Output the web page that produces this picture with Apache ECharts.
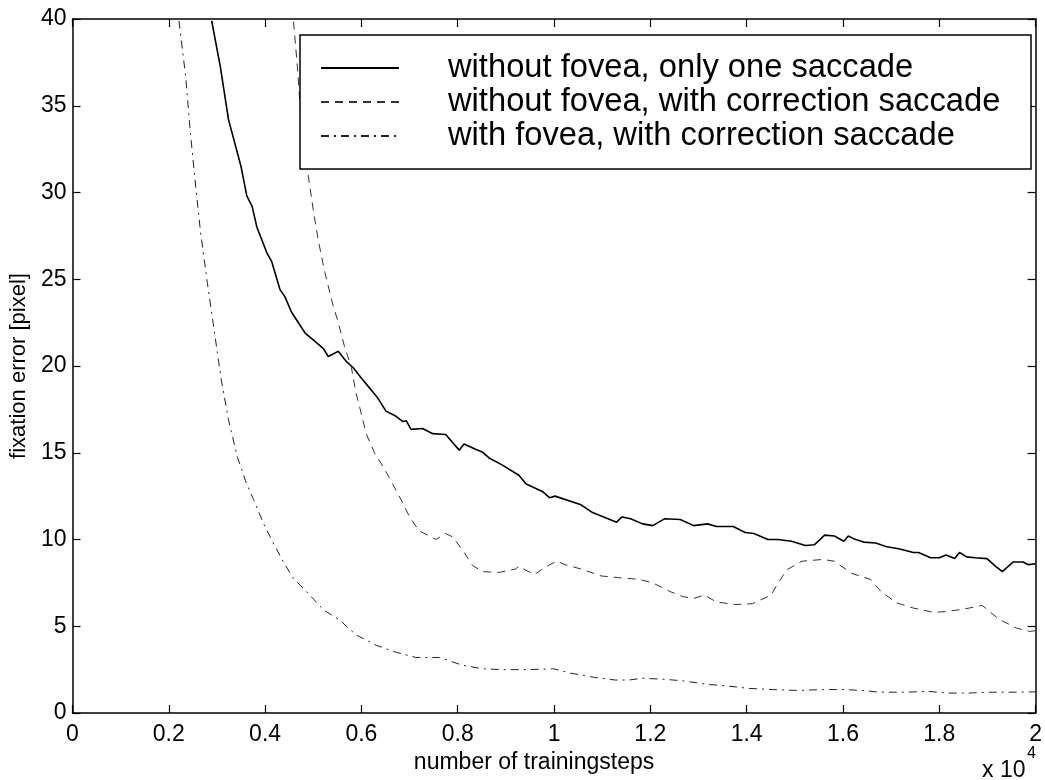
<!DOCTYPE html>
<html>
<head>
<meta charset="utf-8">
<script src="https://cdn.jsdelivr.net/npm/echarts@6/dist/echarts.min.js"></script>
<style>
html,body{margin:0;padding:0;background:#fff;}
#chart{width:1045px;height:780px;}
</style>
</head>
<body>
<div id="chart"></div>
<script>
// x values in units of 10^4 training steps
const seriesNames = [
  'without fovea, only one saccade',
  'without fovea, with correction saccade',
  'with fovea, with correction saccade'
];
const xTickLabels = ['0','0.2','0.4','0.6','0.8','1','1.2','1.4','1.6','1.8','2'];
const yTickLabels = ['0','5','10','15','20','25','30','35','40'];

const solidX = [0.289,0.307,0.324,0.350,0.362,0.373,0.383,0.404,0.414,0.431,0.441,0.455,0.483,0.500,0.521,0.531,0.552,0.569,0.583,0.603,0.634,0.651,0.672,0.686,0.693,0.703,0.727,0.748,0.775,0.803,0.813,0.837,0.851,0.865,0.892,0.927,0.942,0.977,0.991,1.002,1.056,1.080,1.130,1.141,1.159,1.184,1.205,1.230,1.262,1.290,1.319,1.337,1.372,1.397,1.415,1.444,1.465,1.493,1.522,1.541,1.562,1.582,1.602,1.611,1.622,1.643,1.668,1.689,1.718,1.746,1.757,1.782,1.800,1.814,1.832,1.842,1.857,1.874,1.899,1.917,1.931,1.953,1.974,1.985,2.0];
const solidY = [39.9,37.25,34.2,31.5,29.8,29.2,28.0,26.5,26.0,24.4,24.0,23.1,21.9,21.5,21.0,20.55,20.85,20.25,19.9,19.2,18.15,17.4,17.1,16.8,16.85,16.35,16.4,16.1,16.05,15.15,15.5,15.2,15.05,14.7,14.3,13.7,13.2,12.75,12.4,12.5,12.0,11.55,11.0,11.3,11.2,10.9,10.8,11.2,11.15,10.8,10.9,10.75,10.75,10.4,10.35,10.0,10.0,9.9,9.65,9.7,10.25,10.2,9.9,10.2,10.05,9.85,9.8,9.6,9.45,9.25,9.25,8.95,8.95,9.1,8.9,9.25,9.0,8.95,8.9,8.45,8.15,8.7,8.7,8.55,8.6];

const dashedX = [0.459,0.467,0.472,0.477,0.490,0.500,0.510,0.524,0.541,0.552,0.565,0.579,0.589,0.593,0.610,0.627,0.645,0.665,0.686,0.700,0.720,0.755,0.775,0.789,0.810,0.831,0.851,0.886,0.920,0.927,0.959,0.984,1.006,1.023,1.056,1.098,1.134,1.177,1.205,1.241,1.269,1.290,1.312,1.337,1.376,1.412,1.451,1.461,1.483,1.515,1.558,1.582,1.618,1.657,1.679,1.711,1.746,1.789,1.817,1.853,1.889,1.924,1.960,1.988,2.0];
const dashedY = [39.85,37.25,35.3,33.9,30.9,29.0,27.3,25.4,23.5,22.5,21.1,19.95,18.4,18.0,16.1,15.0,14.2,13.2,12.1,11.3,10.5,10.0,10.35,10.15,9.4,8.5,8.15,8.1,8.3,8.45,7.97,8.45,8.75,8.55,8.3,7.9,7.8,7.7,7.5,7.0,6.7,6.6,6.8,6.4,6.25,6.3,6.8,7.3,8.25,8.75,8.85,8.75,8.05,7.7,7.0,6.35,6.05,5.8,5.85,6.0,6.2,5.4,4.9,4.7,4.75];

const dashDotX = [0.221,0.235,0.245,0.256,0.266,0.280,0.293,0.309,0.324,0.342,0.359,0.376,0.397,0.417,0.438,0.459,0.486,0.521,0.555,0.589,0.631,0.672,0.713,0.762,0.810,0.851,0.892,0.949,0.999,1.034,1.084,1.127,1.155,1.184,1.226,1.269,1.319,1.362,1.404,1.454,1.504,1.561,1.604,1.639,1.675,1.732,1.775,1.817,1.860,1.910,1.960,2.0];
const dashDotY = [39.9,36.7,33.4,30.3,27.7,24.8,22.3,19.2,16.9,14.8,13.4,12.3,10.9,9.8,8.7,7.75,7.0,5.95,5.35,4.5,3.9,3.5,3.2,3.2,2.75,2.55,2.5,2.5,2.55,2.3,2.05,1.9,1.9,2.0,1.95,1.85,1.65,1.55,1.42,1.35,1.3,1.35,1.35,1.3,1.2,1.2,1.25,1.15,1.15,1.2,1.2,1.22];

function zip(xs, ys){ return xs.map((x,i)=>[x, ys[i]]); }

const FONT = '"Liberation Sans", Arial, Helvetica, sans-serif';
const chart = echarts.init(document.getElementById('chart'), null, {renderer:'canvas'});

const boxAxisCommon = {
  axisLine:{show:true, onZero:false, lineStyle:{color:'#000', width:1.5}},
  axisTick:{show:true, inside:true, length:8, lineStyle:{color:'#000', width:1.2}},
  splitLine:{show:false}
};

chart.setOption({
  animation:false,
  backgroundColor:'#fff',
  grid:{left:68, right:9, top:19, bottom:67, containLabel:false},
  textStyle:{fontFamily:FONT},
  xAxis:[
    Object.assign({
      type:'value', min:0, max:2, interval:0.2, position:'bottom',
      name:'number of trainingsteps', nameLocation:'middle', nameGap:32,
      nameTextStyle:{fontSize:23, color:'#000', fontFamily:FONT, padding:[0,40,0,0]},
      axisLabel:{show:true, fontSize:23, color:'#000', margin:10, fontFamily:FONT,
        formatter:function(v){ const i=Math.round(v/0.2); return xTickLabels[i]!==undefined?xTickLabels[i]:''; }}
    }, boxAxisCommon),
    Object.assign({
      type:'value', min:0, max:2, interval:0.2, position:'top',
      axisLabel:{show:false}
    }, boxAxisCommon)
  ],
  yAxis:[
    Object.assign({
      type:'value', min:0, max:40, interval:5, position:'left',
      name:'fixation error [pixel]', nameLocation:'middle', nameGap:40,
      nameTextStyle:{fontSize:22, color:'#000', fontFamily:FONT},
      axisLabel:{show:true, fontSize:23, color:'#000', margin:6, fontFamily:FONT,
        formatter:function(v){ const i=Math.round(v/5); return yTickLabels[i]!==undefined?yTickLabels[i]:''; }}
    }, boxAxisCommon),
    Object.assign({
      type:'value', min:0, max:40, interval:5, position:'right',
      axisLabel:{show:false}
    }, boxAxisCommon)
  ],
  legend:{
    show:true, orient:'vertical', left:300, top:35,
    padding:[16,30,16,20], itemGap:0, itemWidth:78, itemHeight:34,
    backgroundColor:'#fff', borderColor:'#000', borderWidth:1.5, borderRadius:0,
    selectedMode:false,
    itemStyle:{opacity:0},
    textStyle:{fontSize:32.7, color:'#000', fontFamily:FONT, lineHeight:34, width:553, padding:[0,0,0,44]},
    data:seriesNames
  },
  graphic:[
    {type:'text', left:982, top:759, style:{text:'x 10', fontSize:23, fill:'#000', fontFamily:FONT}},
    {type:'text', left:1027, top:746, style:{text:'4', fontSize:16, fill:'#000', fontFamily:FONT}}
  ],
  series:[
    {name:seriesNames[0], type:'line', xAxisIndex:0, yAxisIndex:0, data:zip(solidX, solidY),
     symbol:'none', showSymbol:false, clip:true, smooth:false,
     lineStyle:{color:'#000', width:1.6, type:'solid'}, itemStyle:{color:'#000'}},
    {name:seriesNames[1], type:'line', xAxisIndex:0, yAxisIndex:0, data:zip(dashedX, dashedY),
     symbol:'none', showSymbol:false, clip:true,
     lineStyle:{color:'#333', width:1, type:[8,6]}, itemStyle:{color:'#333'}},
    {name:seriesNames[2], type:'line', xAxisIndex:0, yAxisIndex:0, data:zip(dashDotX, dashDotY),
     symbol:'none', showSymbol:false, clip:true,
     lineStyle:{color:'#222', width:1, type:[8,5,2,5]}, itemStyle:{color:'#222'}}
  ]
});
</script>
</body>
</html>
